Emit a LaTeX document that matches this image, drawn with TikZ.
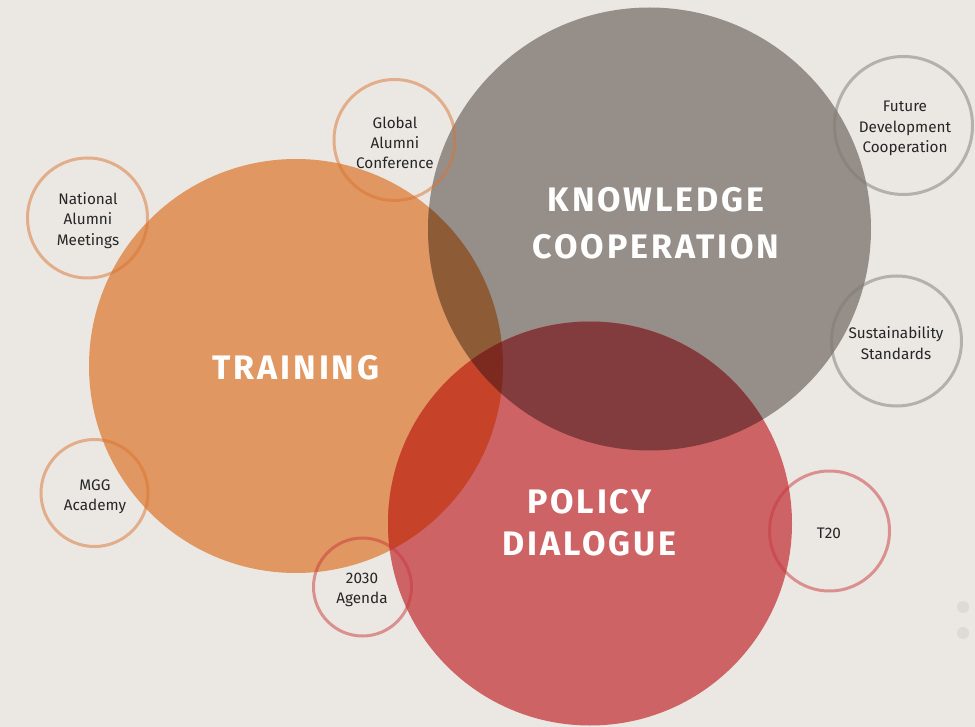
\documentclass[tikz,border=0pt]{standalone}
\usepackage{fontspec}
\setmainfont{Fira Sans}
\newfontfamily\headfont[LetterSpace=8.5]{Fira Sans}
\definecolor{bgc}{HTML}{EBE8E3}
\definecolor{orangec}{HTML}{E19761}
\definecolor{grayc}{HTML}{968F89}
\definecolor{redc}{HTML}{CE6366}
\definecolor{ogc}{HTML}{8E5B37}
\definecolor{grc}{HTML}{833C3D}
\definecolor{orc}{HTML}{C6432A}
\definecolor{ogrc}{HTML}{7C2A1F}
\definecolor{ringo}{HTML}{DA7433}
\definecolor{ringg}{HTML}{7F7A75}
\definecolor{ringr}{HTML}{C83A3D}
\definecolor{textc}{HTML}{262626}
\definecolor{dotc}{HTML}{DEDBD6}
\tikzset{
  ring/.style={draw=#1, draw opacity=0.5, line width=3pt, fill=none},
  smalltext/.style={text=textc, align=center, font=\fontsize{15.3}{20.3}\selectfont, inner sep=0pt},
  bigtext/.style={text=white, align=center, font=\headfont\bfseries\fontsize{34}{#1}\selectfont, inner sep=0pt},
  bigtext/.default=47
}
\begin{document}
\begin{tikzpicture}[x=1pt,y=-1pt]
\fill[bgc] (0,0) rectangle (975,727);
\useasboundingbox (0,0) rectangle (975,727);
% big circles
\fill[orangec] (296,366) circle (207);
\fill[grayc] (649.5,229) circle (221.5);
\fill[redc] (590,523.5) circle (202);
\begin{scope}
  \clip (296,366) circle (207);
  \fill[ogc] (649.5,229) circle (221.5);
  \fill[orc] (590,523.5) circle (202);
\end{scope}
\begin{scope}
  \clip (649.5,229) circle (221.5);
  \fill[grc] (590,523.5) circle (202);
\end{scope}
\begin{scope}
  \clip (296,366) circle (207);
  \clip (649.5,229) circle (221.5);
  \fill[ogrc] (590,523.5) circle (202);
\end{scope}
% rings
\draw[ring=ringo] (87.5,218) circle (60);
\draw[ring=ringo] (394.5,140) circle (60.5);
\draw[ring=ringg] (903.5,125.5) circle (69);
\draw[ring=ringg] (896.5,341) circle (65);
\draw[ring=ringo] (94.5,493) circle (53.5);
\draw[ring=ringr] (362.5,587) circle (49);
\draw[ring=ringr] (829.5,531) circle (60);
% dots
\fill[dotc] (963,607) circle (6);
\fill[dotc] (963,633) circle (6);
% texts
\node[bigtext=47] (know) at (656,223.5) {KNOWLEDGE\\COOPERATION};
\node[bigtext] (train) at (296,367.5) {TRAINING};
\node[bigtext=42] (policy) at (589.5,522.5) {POLICY\\DIALOGUE};
\node[smalltext] (nat) at (88,220.5) {National\\Alumni\\Meetings};
\node[smalltext] (glob) at (395,143) {Global\\Alumni\\Conference};
\node[smalltext] (fut) at (905,128.5) {Future\\Development\\Cooperation};
\node[smalltext] (sus) at (896,343) {Sustainability\\Standards};
\node[smalltext] (mgg) at (95,497) {MGG\\Academy};
\node[smalltext] (agenda) at (362,590) {2030\\Agenda};
\node[smalltext] (t20) at (829,533) {T20};
\end{tikzpicture}
\end{document}
